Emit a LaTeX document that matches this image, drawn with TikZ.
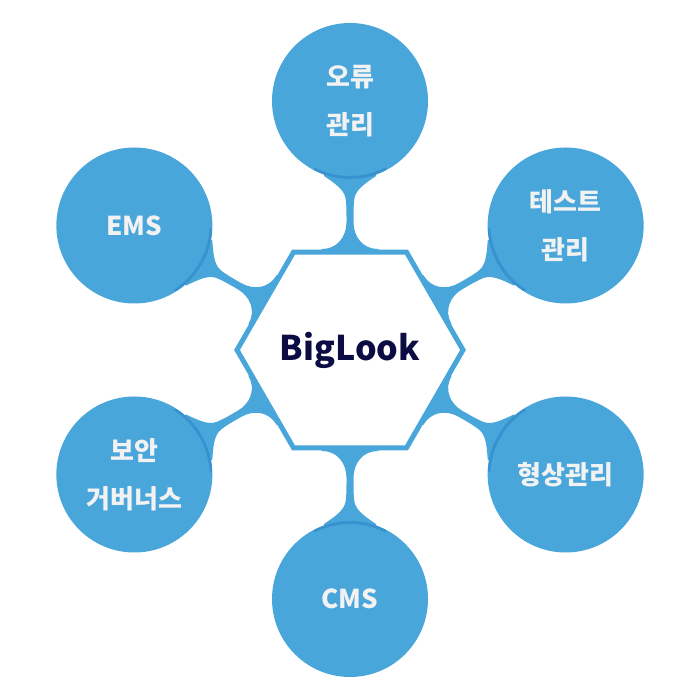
\documentclass[tikz,border=0pt]{standalone}
\usepackage{fontspec}
\setmainfont{Noto Sans CJK KR}
\definecolor{bub}{RGB}{72,166,218}
\definecolor{bubdark}{RGB}{38,122,198}
\definecolor{navy}{RGB}{12,12,68}
\definecolor{txt}{RGB}{242,242,242}
\begin{document}
\begin{tikzpicture}[x=1pt,y=1pt,
  bubble/.style={circle, fill=bub, minimum size=156pt, inner sep=0pt, text=txt,
    font=\bfseries\fontsize{26}{48}\selectfont, align=center},
  latin/.style={font=\bfseries\fontsize{26}{32}\selectfont},
  neckfill/.style={fill=bub},
  shadowfill/.style={fill=bubdark, opacity=.45, even odd rule},
  hexline/.style={draw=bub, line width=5pt, fill=white, line join=miter},
  hubtext/.style={text=navy, font=\bfseries\fontsize{34}{40}\selectfont}]
\useasboundingbox (0,0) rectangle (700,700);
\begin{scope}[shift={(350,350)}]
  \foreach \a in {90,30,-30,-90,-150,150}{
    \fill[neckfill, rotate=\a]
      (96,-32) -- (101,-28) .. controls (101,-13) and (113,-3.5) .. (128,-3.5)
      .. controls (140,-3.5) and (146,-3.5) .. (152,-4.5)
      .. controls (160,-6) and (166,-14) .. (174,-26) -- (185,-26)
      -- (185,26) -- (174,26)
      .. controls (166,14) and (160,6) .. (152,4.5)
      .. controls (146,3.5) and (140,3.5) .. (128,3.5)
      .. controls (113,3.5) and (101,13) .. (101,28) -- (96,32) -- cycle;
  }
  \draw[hexline] (0:113) -- (60:113) -- (120:113) -- (180:113) -- (240:113) -- (300:113) -- cycle;
  \node[hubtext] (hub) at (0,0) {BigLook};
  \node[bubble] (err) at (90:249) {오류\\관리};
  \node[bubble] (test) at (30:249) {테스트\\관리};
  \node[bubble] (conf) at (-30:249) {형상관리};
  \node[bubble, latin] (cms) at (-90:249) {CMS};
  \node[bubble] (sec) at (-150:249) {보안\\거버너스};
  \node[bubble, latin] (ems) at (150:249) {EMS};
  \foreach \a in {90,30,-30,-90,-150,150}{
    \begin{scope}[rotate=\a]
      \clip (249,0) circle (78);
      \clip (165,-36) rectangle (205,36);
      \fill[shadowfill] (249,0) circle (78) (252,0) circle (78);
    \end{scope}
  }
\end{scope}
\end{tikzpicture}
\end{document}
